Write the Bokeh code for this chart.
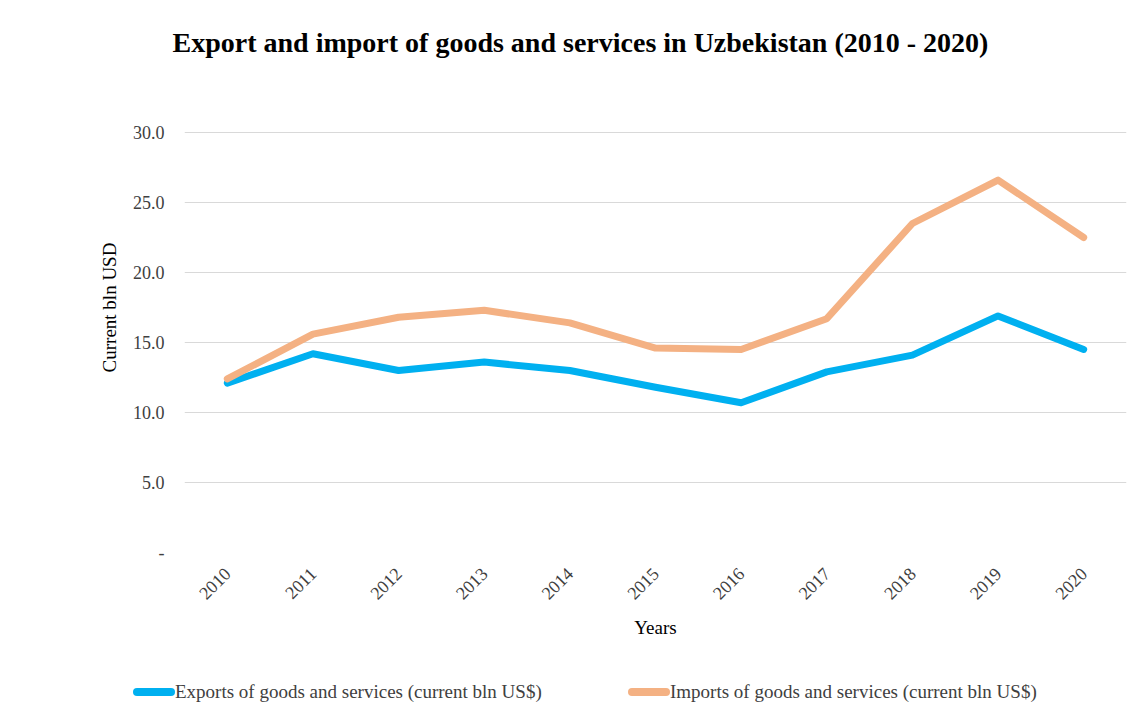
import math
from bokeh.plotting import figure
from bokeh.layouts import column
from bokeh.models import CustomJSTickFormatter, FixedTicker, Range1d, Div
from bokeh.embed import file_html
from bokeh.resources import INLINE

years = ["2010", "2011", "2012", "2013", "2014", "2015", "2016", "2017", "2018", "2019", "2020"]
exports = [12.1, 14.2, 13.0, 13.6, 13.0, 11.8, 10.7, 12.9, 14.1, 16.9, 14.5]
imports = [12.4, 15.6, 16.8, 17.3, 16.4, 14.6, 14.5, 16.7, 23.5, 26.6, 22.5]
y_ticks = [0, 5, 10, 15, 20, 25, 30]
series_names = ["Exports of goods and services (current bln US$)",
                "Imports of goods and services (current bln US$)"]
series_colors = ["#00B0F0", "#F4B183"]

SERIF = "Liberation Serif"
TXT = "#404040"

p = figure(x_range=years, y_range=Range1d(0, 35.0), width=1148, height=660,
           output_backend="svg", toolbar_location=None,
           min_border_left=184, min_border_right=22, min_border_top=62, min_border_bottom=108)
p.outline_line_color = None

p.title.text = "Export and import of goods and services in Uzbekistan (2010 - 2020)"
p.title.text_font = SERIF
p.title.text_font_style = "bold"
p.title.text_font_size = "28px"
p.title.text_color = "#000000"
p.title.align = "left"
p.title.offset = -12
p.title.standoff = 10

for vals, col in zip([exports, imports], series_colors):
    p.line(years, vals, line_color=col, line_width=7, line_join="round", line_cap="round")

p.yaxis.ticker = FixedTicker(ticks=y_ticks)
p.yaxis.formatter = CustomJSTickFormatter(code="return tick == 0 ? '-' : tick.toFixed(1);")
p.yaxis.axis_label = "Current bln USD"
for ax in (p.xaxis[0], p.yaxis[0]):
    ax.axis_line_color = None
    ax.major_tick_line_color = None
    ax.minor_tick_line_color = None
    ax.major_label_text_font = SERIF
    ax.major_label_text_font_size = "18px"
    ax.major_label_text_color = TXT
    ax.axis_label_text_font = SERIF
    ax.axis_label_text_font_size = "19px"
    ax.axis_label_text_font_style = "normal"
    ax.axis_label_text_color = "#000000"
p.yaxis.major_label_standoff = 14
p.yaxis.axis_label_standoff = 10
p.xaxis.axis_label = "Years"
p.xaxis.major_label_orientation = math.pi / 4
p.xaxis.major_label_standoff = 12
p.xaxis.axis_label_standoff = 9

p.xgrid.grid_line_color = None
p.ygrid.ticker = FixedTicker(ticks=y_ticks)
p.ygrid.grid_line_color = "#d9d9d9"
p.ygrid.grid_line_width = 1

# legend strip below the chart (HTML)
lefts = [133, 628]
parts = []
for name, col, left in zip(series_names, series_colors, lefts):
    parts.append(
        f'<span style="position:absolute;left:{left}px;top:28px;width:42px;height:8px;'
        f'border-radius:4px;background:{col};"></span>'
        f'<span style="position:absolute;left:{left + 42}px;top:21px;line-height:22px;'
        f'white-space:nowrap;">{name}</span>'
    )
html = (f'<div style="position:relative;width:1148px;height:59px;font-family:\'{SERIF}\';'
        f'font-size:19px;color:{TXT};">' + "".join(parts) + '</div>')
lg = Div(text=html, width=1148, height=59, margin=0)

layout = column(p, lg, spacing=0)
open("out.html", "w").write(file_html(layout, INLINE))
